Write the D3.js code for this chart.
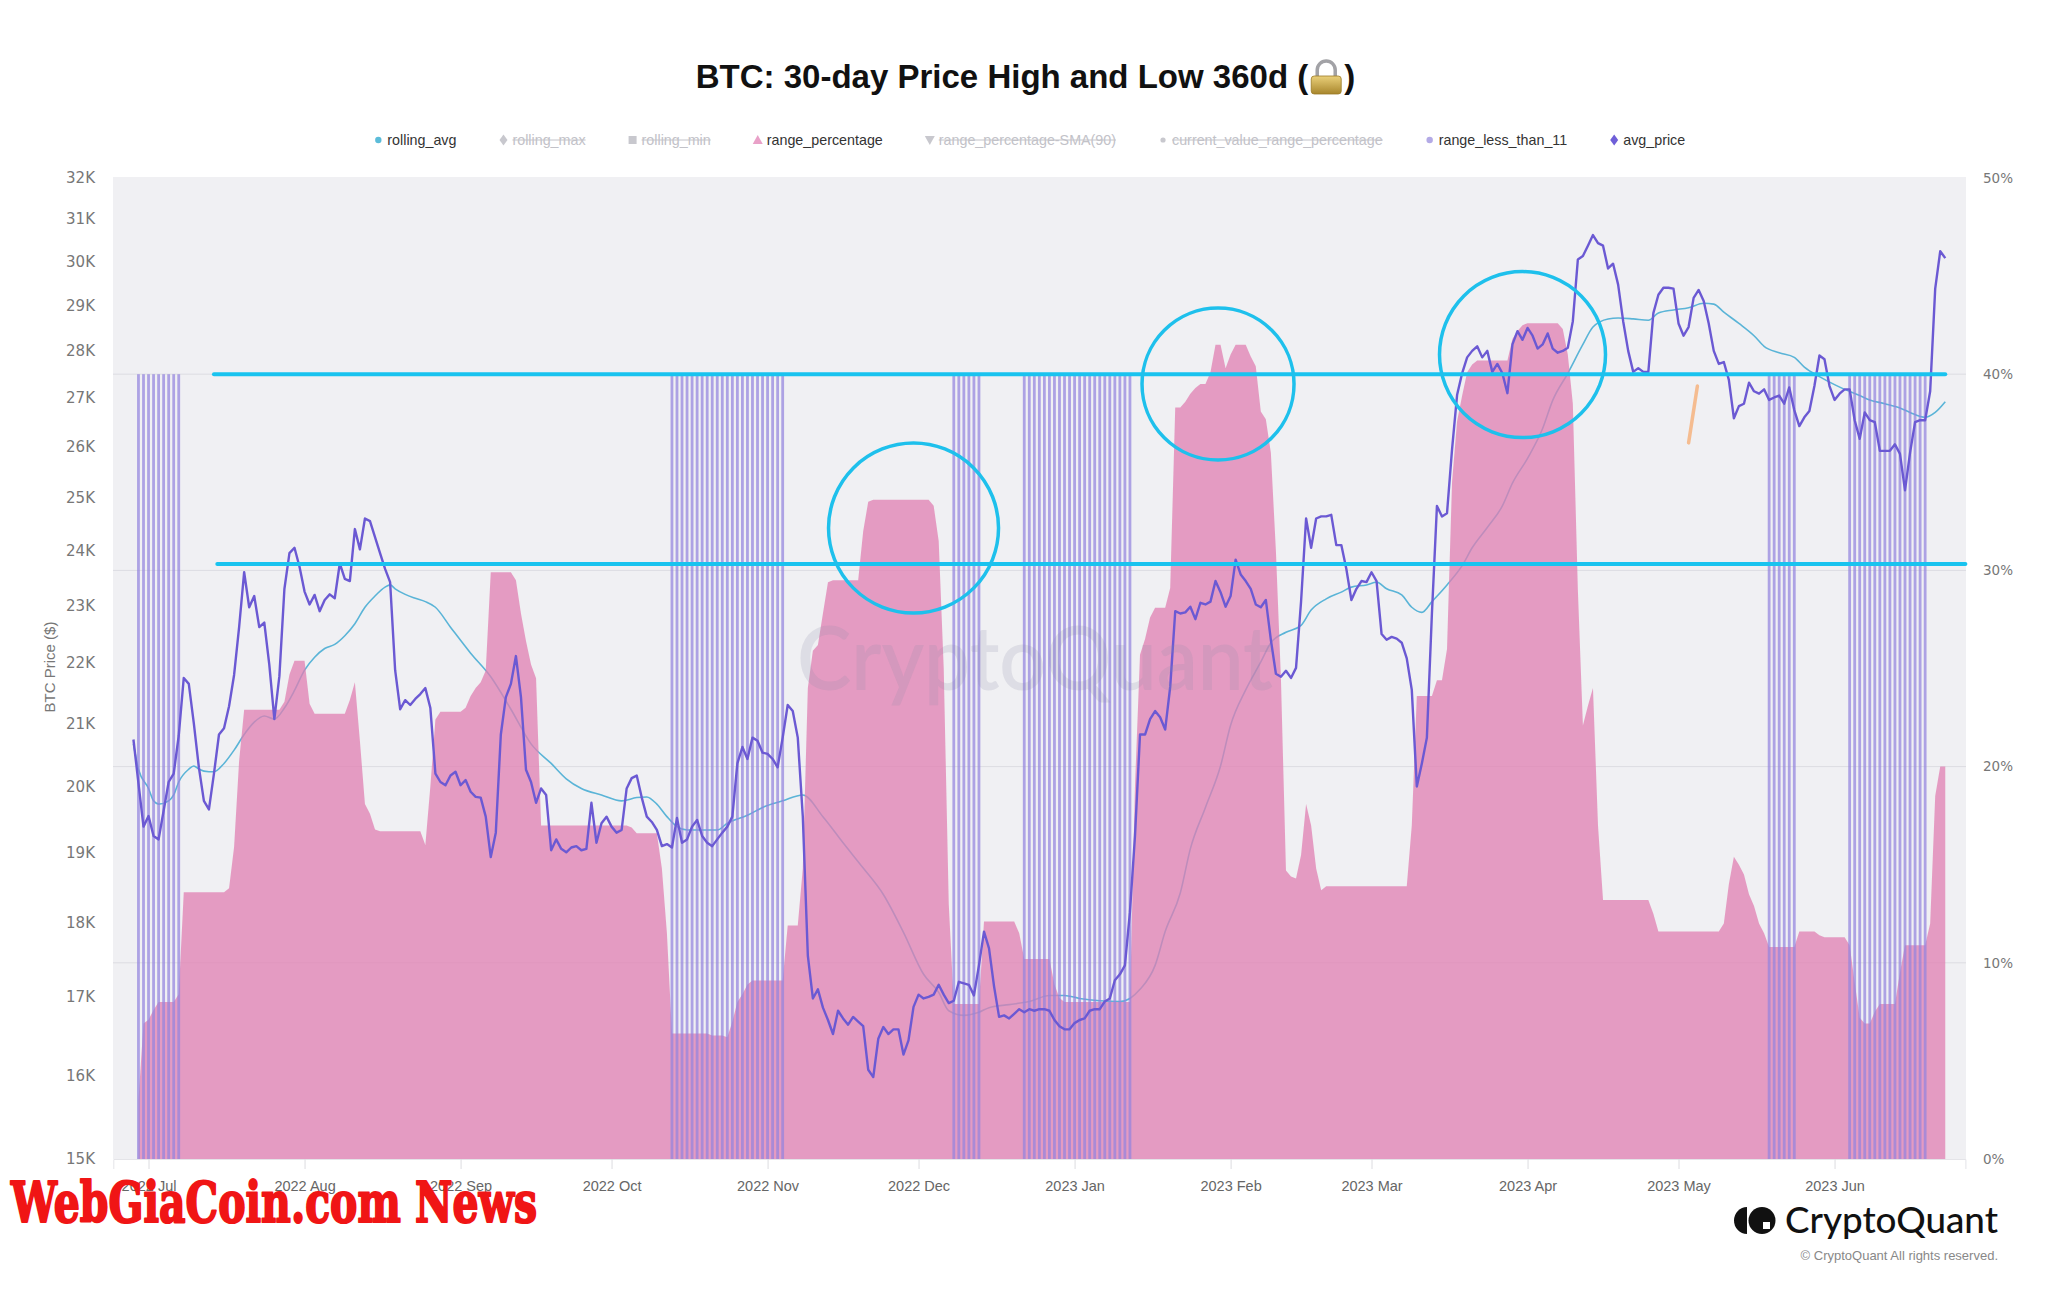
<!DOCTYPE html>
<html><head><meta charset="utf-8">
<script src="https://cdn.jsdelivr.net/npm/d3@7"></script>
<style>html,body{margin:0;padding:0;background:#fff;} svg{display:block;}</style>
</head><body>
<svg id="chart" width="2048" height="1290"></svg>
<script>
// ---------------- DATA ----------------
const titleText = "BTC: 30-day Price High and Low 360d (";
const legendNames = ["rolling_avg","rolling_max","rolling_min","range_percentage","range_percentage-SMA(90)","current_value_range_percentage","range_less_than_11","avg_price"];
const legendActive = [true,false,false,true,false,false,true,true];
const xDomain = ["2022-06-24","2023-06-27"];
const monthTicks = ["2022-07-01","2022-08-01","2022-09-01","2022-10-01","2022-11-01","2022-12-01","2023-01-01","2023-02-01","2023-03-01","2023-04-01","2023-05-01","2023-06-01"];
const priceTicksK = [15,16,17,18,19,20,21,22,23,24,25,26,27,28,29,30,31,32];
const pctTicks = [0,10,20,30,40,50];

// avg_price (thousand USD), daily from 2022-06-28
const avgPriceStart = "2022-06-28";
const avgPriceK = [
20.74,20.05,19.39,19.55,19.25,19.2,19.63,20.07,20.2,20.8,
21.75,21.65,21.0,20.3,19.78,19.65,20.2,20.82,20.92,21.28,
21.8,22.62,23.6,22.97,23.17,22.62,22.7,21.97,21.07,21.78,
23.3,23.95,24.05,23.7,23.25,23.02,23.19,22.9,23.1,23.2,
23.13,23.76,23.48,23.44,24.4,24.02,24.6,24.55,24.25,23.95,
23.66,23.42,21.88,21.23,21.38,21.3,21.4,21.48,21.58,21.25,
20.2,20.07,20.02,20.17,20.23,20.02,20.1,19.92,19.84,19.83,
19.54,18.94,19.3,20.82,21.43,21.65,22.12,21.43,20.26,20.07,
19.75,19.97,19.87,19.04,19.2,19.06,19.01,19.08,19.1,19.04,
19.06,19.75,19.15,19.44,19.54,19.39,19.3,19.34,19.97,20.13,
20.17,19.83,19.54,19.46,19.34,19.1,19.13,19.08,19.52,19.15,
19.2,19.39,19.49,19.25,19.15,19.1,19.2,19.3,19.39,19.54,
20.36,20.62,20.43,20.77,20.72,20.53,20.51,20.43,20.3,20.77,
21.3,21.2,20.77,19.54,17.55,16.98,17.1,16.86,16.7,16.52,
16.82,16.72,16.64,16.74,16.68,16.62,16.07,15.98,16.46,16.61,
16.52,16.58,16.58,16.26,16.44,16.87,17.03,16.98,17.0,17.03,
17.16,17.03,16.92,16.95,17.2,17.18,17.16,17.02,17.42,17.88,
17.65,17.14,16.74,16.76,16.72,16.78,16.84,16.8,16.84,16.82,
16.84,16.84,16.82,16.7,16.62,16.58,16.58,16.66,16.7,16.72,
16.82,16.84,16.84,16.94,16.98,17.22,17.3,17.42,18.15,19.25,
20.82,20.82,21.07,21.2,21.1,20.9,21.6,22.9,22.86,22.88,
22.98,22.76,23.05,23.02,23.07,23.44,23.24,22.98,23.17,23.83,
23.56,23.44,23.3,23.02,22.97,23.1,22.4,21.82,21.77,21.87,
21.75,21.92,23.07,24.6,24.05,24.6,24.64,24.64,24.67,24.1,
24.1,23.66,23.1,23.3,23.44,23.42,23.6,23.44,22.5,22.4,
22.45,22.42,22.35,22.08,21.55,20.0,20.36,20.77,22.86,24.84,
24.64,24.7,25.95,27.06,27.52,27.86,28.0,28.1,27.86,28.0,
27.55,27.72,27.52,27.1,28.14,28.43,28.24,28.5,28.33,28.05,
28.14,28.38,28.05,27.96,28.0,28.07,28.65,30.05,30.13,30.37,
30.62,30.43,30.37,29.84,29.95,29.47,28.65,28.0,27.55,27.63,
27.55,27.55,28.83,29.24,29.4,29.4,29.38,28.6,28.33,28.52,
29.17,29.35,29.1,28.6,28.0,27.72,27.76,27.38,26.58,26.83,
26.88,27.32,27.14,27.09,27.18,26.96,27.01,27.05,26.88,27.22,
26.75,26.42,26.6,26.73,27.25,27.9,27.82,27.25,26.96,27.09,
27.18,27.18,26.54,26.16,26.7,26.54,26.5,25.92,25.92,25.92,
26.05,25.86,25.14,25.88,26.5,26.54,26.54,27.14,29.38,30.24,
30.08];

// rolling_avg (thousand USD)
const rollingDates = ["2022-06-28","2022-06-29","2022-07-01","2022-07-02","2022-07-03","2022-07-05","2022-07-06","2022-07-07","2022-07-09","2022-07-10",
"2022-07-11","2022-07-13","2022-07-14","2022-07-16","2022-07-18","2022-07-20","2022-07-22","2022-07-24","2022-07-26","2022-07-28",
"2022-07-30","2022-08-01","2022-08-03","2022-08-05","2022-08-07","2022-08-09","2022-08-11","2022-08-13","2022-08-15","2022-08-17",
"2022-08-18","2022-08-19","2022-08-21","2022-08-23","2022-08-25","2022-08-27","2022-08-30","2022-09-03","2022-09-07","2022-09-11",
"2022-09-15","2022-09-19","2022-09-22","2022-09-25","2022-09-29","2022-10-03","2022-10-06","2022-10-08","2022-10-10","2022-10-12",
"2022-10-14","2022-10-16","2022-10-19","2022-10-22","2022-10-24","2022-10-28","2022-10-31","2022-11-04","2022-11-08","2022-11-12",
"2022-11-16","2022-11-20","2022-11-24","2022-11-28","2022-12-02","2022-12-05","2022-12-07","2022-12-10","2022-12-13","2022-12-15",
"2022-12-19","2022-12-23","2022-12-27","2022-12-30","2023-01-02","2023-01-06","2023-01-10","2023-01-12","2023-01-14","2023-01-17",
"2023-01-19","2023-01-22","2023-01-24","2023-01-27","2023-01-30","2023-02-01","2023-02-04","2023-02-07","2023-02-09","2023-02-12",
"2023-02-15","2023-02-17","2023-02-20","2023-02-23","2023-02-25","2023-02-28","2023-03-02","2023-03-04","2023-03-07","2023-03-09",
"2023-03-11","2023-03-13","2023-03-16","2023-03-19","2023-03-21","2023-03-24","2023-03-27","2023-03-29","2023-04-01","2023-04-04",
"2023-04-06","2023-04-09","2023-04-12","2023-04-14","2023-04-17","2023-04-19","2023-04-22","2023-04-25","2023-04-27","2023-04-30",
"2023-05-03","2023-05-06","2023-05-08","2023-05-10","2023-05-13","2023-05-16","2023-05-18","2023-05-21","2023-05-24","2023-05-26",
"2023-05-29","2023-06-01","2023-06-03","2023-06-06","2023-06-08","2023-06-11","2023-06-14","2023-06-16","2023-06-19","2023-06-21",
"2023-06-23"];
const rollingAvgK = [20.67,20.27,19.97,19.78,19.73,19.78,19.87,20.07,20.27,20.32,
20.27,20.23,20.23,20.36,20.57,20.82,21.02,21.12,21.07,21.25,
21.54,21.88,22.1,22.25,22.32,22.47,22.68,22.97,23.17,23.33,
23.37,23.3,23.2,23.13,23.07,22.97,22.62,22.17,21.77,21.23,
20.67,20.36,20.12,19.97,19.87,19.78,19.83,19.84,19.73,19.54,
19.39,19.34,19.34,19.34,19.44,19.56,19.68,19.78,19.87,19.54,
19.15,18.78,18.4,17.87,17.3,17.06,16.82,16.76,16.8,16.86,
16.9,16.94,17.02,17.02,16.98,16.95,16.94,16.98,17.1,17.42,
17.88,18.42,19.06,19.68,20.32,20.97,21.55,22.02,22.35,22.53,
22.65,22.92,23.12,23.24,23.33,23.37,23.42,23.3,23.19,22.97,
22.88,23.07,23.37,23.72,24.05,24.43,24.84,25.28,25.77,26.37,
26.95,27.52,28.14,28.52,28.7,28.72,28.7,28.67,28.83,28.9,
28.95,29.05,29.03,28.85,28.6,28.33,28.1,27.96,27.86,27.65,
27.45,27.28,27.18,27.05,26.96,26.88,26.79,26.7,26.6,26.7,
26.92];

// range_percentage (%), daily from 2022-06-29
const rangeStart = "2022-06-29";
const rangePct = [
3.0,6.9,7.1,7.6,8.0,8.0,8.0,8.0,8.4,13.6,
13.6,13.6,13.6,13.6,13.6,13.6,13.6,13.6,13.8,15.9,
20.3,22.9,22.9,22.9,22.9,22.9,22.9,22.9,22.9,23.3,
24.7,25.4,25.4,25.4,23.2,22.7,22.7,22.7,22.7,22.7,
22.7,22.7,23.4,24.3,21.3,18.1,17.6,16.8,16.7,16.7,
16.7,16.7,16.7,16.7,16.7,16.7,16.7,16.0,19.0,22.4,
22.8,22.8,22.8,22.8,22.8,23.0,23.6,24.0,24.3,24.9,
29.9,29.9,29.9,29.9,29.9,29.5,27.8,26.4,25.2,24.5,
17.0,17.0,17.0,17.0,17.0,17.0,17.0,17.0,17.0,17.0,
17.0,17.0,17.0,17.0,17.0,17.0,17.0,17.0,16.9,16.6,
16.6,16.6,16.6,16.6,14.8,11.5,6.4,6.4,6.4,6.4,
6.4,6.4,6.4,6.4,6.3,6.3,6.3,6.2,7.0,8.0,
8.4,8.9,9.1,9.1,9.1,9.1,9.1,9.1,9.1,11.9,
11.9,11.9,14.8,24.0,25.9,26.2,27.8,29.4,29.5,29.5,
29.5,29.5,29.5,29.5,32.0,33.5,33.6,33.6,33.6,33.6,
33.6,33.6,33.6,33.6,33.6,33.6,33.6,33.6,33.3,31.5,
25.0,13.0,7.9,7.9,7.9,7.9,7.9,7.9,12.1,12.1,
12.1,12.1,12.1,12.1,12.1,11.5,10.2,10.2,10.2,10.2,
10.2,10.2,8.9,8.2,8.0,8.0,8.0,8.0,8.0,8.0,
8.0,8.0,8.0,8.0,8.0,8.0,8.0,8.0,19.0,25.7,
26.5,27.6,28.1,28.1,28.1,29.1,38.3,38.3,38.6,39.0,
39.3,39.5,39.5,40.1,41.5,41.5,40.3,41.0,41.5,41.5,
41.5,40.9,40.4,38.1,37.7,36.0,31.0,24.5,14.7,14.4,
14.3,15.5,18.1,17.0,14.8,13.7,13.9,13.9,13.9,13.9,
13.9,13.9,13.9,13.9,13.9,13.9,13.9,13.9,13.9,13.9,
13.9,13.9,13.9,17.0,23.6,23.6,23.6,23.6,24.4,24.4,
26.0,34.5,37.6,38.9,40.1,40.5,40.7,40.7,40.7,40.7,
40.7,40.7,40.7,41.8,42.2,42.5,42.6,42.6,42.6,42.6,
42.6,42.6,42.6,42.3,41.0,38.5,29.0,22.1,23.1,24.0,
17.0,13.2,13.2,13.2,13.2,13.2,13.2,13.2,13.2,13.2,
13.2,12.5,11.6,11.6,11.6,11.6,11.6,11.6,11.6,11.6,
11.6,11.6,11.6,11.6,11.6,12.0,14.0,15.4,15.0,14.5,
13.5,12.9,12.0,11.5,10.8,10.8,10.8,10.8,10.8,10.8,
11.6,11.6,11.6,11.6,11.4,11.3,11.3,11.3,11.3,11.3,
10.9,9.0,7.2,6.9,6.9,7.5,7.9,7.9,7.9,7.9,
9.5,10.9,10.9,10.9,10.9,10.9,12.0,18.5,20.0,20.0];

// range_less_than_11 periods (bar level in %)
const lowRangeStart = ["2022-06-29","2022-10-13","2022-12-08","2022-12-22","2023-05-19","2023-06-04"];
const lowRangeEnd   = ["2022-07-07","2022-11-04","2022-12-13","2023-01-12","2023-05-24","2023-06-19"];
const lowRangeLevel = 40;

// hand-drawn annotations (date, percent position)
const annoCircleDates = ["2022-11-30T00:00:00Z","2023-01-29T12:00:00Z","2023-03-31T00:00:00Z"];
const annoCirclePct = [32.16, 39.5, 41.0];
const annoCircleR = [85, 76, 83];
const annoLineStart = ["2022-07-14T00:00:00Z","2022-07-14T16:00:00Z"];
const annoLineEnd = ["2023-06-23T00:00:00Z","2023-06-27T00:00:00Z"];
const annoLinePct = [40, 30.33];
const orangeDates = ["2023-05-04T18:00:00Z","2023-05-03T00:00:00Z"];
const orangePct = [39.4, 36.5];

// ---------------- CHART ----------------
const W = 2048, H = 1290;
const L = 113, R = 1966, T = 177, B = 1159;
const parse = d3.utcParse("%Y-%m-%d");
const svg = d3.select("#chart");
const FONT = "'Liberation Sans', Arial, Helvetica, sans-serif";

const x = d3.scaleUtc().domain(xDomain.map(parse)).range([113.3, 1965.4]);
const yP = d3.scaleLog().domain([15, 32]).range([B, 178]);
const yR = d3.scaleLinear().domain([0, 50]).range([B, 178]);

svg.append("rect").attr("width", W).attr("height", H).attr("fill", "#fff");
svg.append("rect").attr("x", L).attr("y", T).attr("width", R - L).attr("height", B - T).attr("fill", "#f0f0f3");

// gridlines (right axis)
svg.append("g").selectAll("line").data(pctTicks.filter(d => d > 0 && d < 50)).join("line")
  .attr("x1", L).attr("x2", R).attr("y1", d => yR(d)).attr("y2", d => yR(d))
  .attr("stroke", "#dcdce2").attr("stroke-width", 1);

// rolling_avg (under pink)
const rollData = rollingDates.map((s, i) => ({ date: parse(s), v: rollingAvgK[i] }));
svg.append("path").datum(rollData)
  .attr("d", d3.line().x(d => x(d.date)).y(d => yP(d.v)).curve(d3.curveMonotoneX))
  .attr("fill", "none").attr("stroke", "#5ab4d7").attr("stroke-width", 1.6);

// range_percentage area
const rangeData = rangePct.map((v, i) => ({ date: d3.utcDay.offset(parse(rangeStart), i), v }));
svg.append("path").datum(rangeData)
  .attr("d", d3.area().x(d => x(d.date)).y0(yR(0)).y1(d => yR(d.v)))
  .attr("fill", "#e07fb2").attr("fill-opacity", 0.75);

// range_less_than_11 bars
const barDays = [];
lowRangeStart.forEach((s, i) => {
  d3.utcDay.range(parse(s), d3.utcDay.offset(parse(lowRangeEnd[i]), 1)).forEach(d => barDays.push(d));
});
svg.append("g").selectAll("rect").data(barDays).join("rect")
  .attr("x", d => x(d) - 1.4).attr("width", 2.8)
  .attr("y", yR(lowRangeLevel)).attr("height", yR(0) - yR(lowRangeLevel))
  .attr("fill", "#9384de").attr("fill-opacity", 0.72);

// avg_price line
const priceData = avgPriceK.map((v, i) => ({ date: d3.utcDay.offset(parse(avgPriceStart), i), v }));
svg.append("path").datum(priceData)
  .attr("d", d3.line().x(d => x(d.date)).y(d => yP(d.v)))
  .attr("fill", "none").attr("stroke", "#6b59d3").attr("stroke-width", 2.4)
  .attr("stroke-linejoin", "round");

// watermark
svg.append("text").attr("x", 797).attr("y", 690)
  .attr("font-family", "Lato, 'Open Sans', sans-serif").attr("font-size", 88).attr("font-weight", 600)
  .attr("textLength", 476).attr("lengthAdjust", "spacingAndGlyphs")
  .attr("fill", "#8c8ca8").attr("fill-opacity", 0.18).text("CryptoQuant");

// axes
const xAxis = svg.append("g").attr("transform", `translate(0,${B})`)
  .call(d3.axisBottom(x).tickValues(monthTicks.map(parse)).tickFormat(d3.utcFormat("%Y %b")).tickSize(10).tickPadding(12));
xAxis.select(".domain").attr("stroke", "#e4e4e8");
xAxis.selectAll(".tick line").attr("stroke", "#dcdce0");
xAxis.selectAll("text").attr("font-family", FONT).attr("font-size", 14.5).attr("fill", "#666");

const yAxisL = svg.append("g").attr("transform", `translate(${L},0)`)
  .call(d3.axisLeft(yP).tickValues(priceTicksK).tickFormat(d => d + "K").tickSize(0).tickPadding(18));
yAxisL.select(".domain").remove();
yAxisL.selectAll("text").attr("font-family", "'DejaVu Sans', Verdana, sans-serif").attr("font-size", 15).attr("fill", "#777");

const yAxisR = svg.append("g").attr("transform", `translate(${R},0)`)
  .call(d3.axisRight(yR).tickValues(pctTicks).tickFormat(d => d + "%").tickSize(0).tickPadding(17));
yAxisR.select(".domain").remove();
yAxisR.selectAll("text").attr("font-family", "'DejaVu Sans', Verdana, sans-serif").attr("font-size", 13.5).attr("fill", "#777");

svg.append("text").attr("transform", "translate(55,667) rotate(-90)").attr("text-anchor", "middle")
  .attr("font-family", FONT).attr("font-size", 15).attr("fill", "#777").text("BTC Price ($)");

// title with lock
const tg = svg.append("g");
const tt = tg.append("text").attr("x", 0).attr("y", 88).attr("font-family", FONT).attr("font-weight", 700)
  .attr("font-size", 33).attr("fill", "#111").text(titleText);
const tw = tt.node().getComputedTextLength();
const lockX = tw + 3;
const defs = svg.append("defs");
const gr = defs.append("linearGradient").attr("id", "gold").attr("x1", 0).attr("y1", 0).attr("x2", 0).attr("y2", 1);
gr.append("stop").attr("offset", "0%").attr("stop-color", "#ead07a");
gr.append("stop").attr("offset", "100%").attr("stop-color", "#a8862c");
tg.append("path").attr("d", `M${lockX + 6},${79} V${70} A9 9 0 0 1 ${lockX + 24},${70} V${79}`)
  .attr("fill", "none").attr("stroke", "#a2a2a6").attr("stroke-width", 3.5);
tg.append("rect").attr("x", lockX).attr("y", 76).attr("width", 30).attr("height", 18).attr("rx", 3)
  .attr("fill", "url(#gold)").attr("stroke", "#9a7a26").attr("stroke-width", 0.8);
const cp = tg.append("text").attr("x", lockX + 33).attr("y", 88).attr("font-family", FONT).attr("font-weight", 700)
  .attr("font-size", 33).attr("fill", "#111").text(")");
const totalW = lockX + 33 + cp.node().getComputedTextLength();
tg.attr("transform", `translate(${1025.5 - totalW / 2},0)`);

// legend
const lg = svg.append("g");
let cx = 0;
const items = [];
legendNames.forEach((name, i) => {
  const g = lg.append("g");
  const t = g.append("text").attr("x", cx + 9).attr("y", 145).attr("font-family", FONT).attr("font-size", 14.3)
    .attr("fill", legendActive[i] ? "#333" : "#c2c2c8").text(name);
  const w = t.node().getComputedTextLength();
  items.push({ g, cx, w, i });
  if (!legendActive[i]) {
    g.append("line").attr("x1", cx + 9).attr("x2", cx + 9 + w).attr("y1", 140).attr("y2", 140)
      .attr("stroke", "#c2c2c8").attr("stroke-width", 1);
  }
  cx += 9 + w + 47;
});
const shapes = ["circle","diamond","square","triangle","triangleDown","circleSmall","circle","diamond"];
const mColors = ["#5cbcd9","#c8c8ce","#c8c8ce","#e9a1c8","#c8c8ce","#c8c8ce","#b3aae6","#6f5fd8"];
items.forEach(it => {
  const sh = shapes[it.i], c = mColors[it.i], mx = it.cx, my = 140;
  let p;
  if (sh === "circle") p = it.g.append("circle").attr("cx", mx).attr("cy", my).attr("r", 3.2);
  else if (sh === "circleSmall") p = it.g.append("circle").attr("cx", mx).attr("cy", my).attr("r", 2.6);
  else if (sh === "diamond") p = it.g.append("path").attr("d", `M${mx},${my - 5.5}L${mx + 4},${my}L${mx},${my + 5.5}L${mx - 4},${my}Z`);
  else if (sh === "square") p = it.g.append("rect").attr("x", mx - 4).attr("y", my - 4).attr("width", 8).attr("height", 8);
  else if (sh === "triangle") p = it.g.append("path").attr("d", `M${mx},${my - 5}L${mx + 5},${my + 4}L${mx - 5},${my + 4}Z`);
  else p = it.g.append("path").attr("d", `M${mx},${my + 5}L${mx + 5},${my - 4}L${mx - 5},${my - 4}Z`);
  p.attr("fill", c);
});
const last = items[items.length - 1];
const span = last.cx + 9 + last.w;
lg.attr("transform", `translate(${1031.75 - span / 2},0)`);

// annotations
const ann = svg.append("g");
annoLineStart.forEach((s, i) => {
  ann.append("line").attr("x1", x(d3.isoParse(s))).attr("x2", x(d3.isoParse(annoLineEnd[i])))
    .attr("y1", yR(annoLinePct[i])).attr("y2", yR(annoLinePct[i]))
    .attr("stroke", "#19c3ef").attr("stroke-width", 4).attr("stroke-linecap", "round");
});
annoCircleDates.forEach((s, i) => {
  ann.append("circle").attr("cx", x(d3.isoParse(s))).attr("cy", yR(annoCirclePct[i])).attr("r", annoCircleR[i])
    .attr("fill", "none").attr("stroke", "#1ec0ec").attr("stroke-width", 3.5);
});
ann.append("line").attr("x1", x(d3.isoParse(orangeDates[0]))).attr("y1", yR(orangePct[0]))
  .attr("x2", x(d3.isoParse(orangeDates[1]))).attr("y2", yR(orangePct[1]))
  .attr("stroke", "#f5b685").attr("stroke-width", 3.5).attr("stroke-linecap", "round").attr("stroke-opacity", 0.9);

// logo bottom-right
const logo = svg.append("g");
logo.append("path").attr("d", "M1747,1207 A13,13.5 0 0 0 1747,1234 Z").attr("fill", "#111");
logo.append("circle").attr("cx", 1762).attr("cy", 1220.5).attr("r", 13.5).attr("fill", "#111");
logo.append("rect").attr("x", 1763).attr("y", 1222).attr("width", 7).attr("height", 7).attr("fill", "#fff");
logo.append("text").attr("x", 1785).attr("y", 1233).attr("font-family", "Lato, 'Open Sans', sans-serif")
  .attr("font-size", 36).attr("font-weight", 500).attr("fill", "#111")
  .attr("textLength", 213).attr("lengthAdjust", "spacingAndGlyphs").text("CryptoQuant");
svg.append("text").attr("x", 1998).attr("y", 1260).attr("text-anchor", "end").attr("font-family", FONT)
  .attr("font-size", 13).attr("fill", "#888").text("© CryptoQuant All rights reserved.");

// overlay source tag
svg.append("text").attr("x", 11).attr("y", 1222).attr("font-family", "'DejaVu Serif', serif").attr("font-weight", 700)
  .attr("font-size", 56).attr("fill", "#f01515").attr("stroke", "#f01515").attr("stroke-width", 2.2)
  .attr("stroke-linejoin", "round")
  .attr("textLength", 526).attr("lengthAdjust", "spacingAndGlyphs")
  .text("WebGiaCoin.com News");
</script>
</body></html>
